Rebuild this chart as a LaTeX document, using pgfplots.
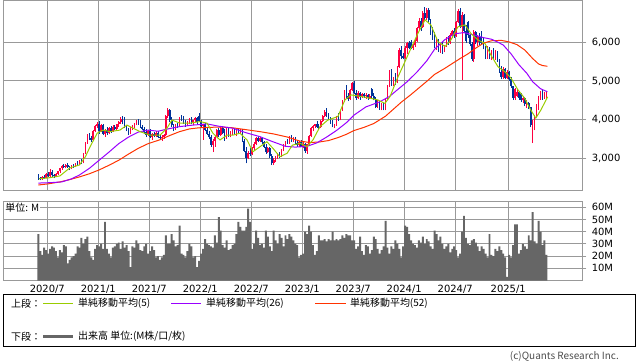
\documentclass[border=0pt]{standalone}
\usepackage{fontspec}
\setmainfont{DejaVu Sans}
\newfontfamily\jp{Noto Sans CJK JP}
\usepackage{pgfplots}
\usepackage{pgfplotstable}
\pgfplotsset{compat=1.18}
\definecolor{upred}{RGB}{255,0,64}
\definecolor{dnblue}{RGB}{0,51,153}
\definecolor{maA}{RGB}{153,204,0}
\definecolor{maB}{RGB}{153,0,255}
\definecolor{maC}{RGB}{255,51,0}
\definecolor{gridgray}{RGB}{153,153,153}
\definecolor{volgray}{RGB}{102,102,102}
\pgfplotsset{
  colormap={ud}{color(0cm)=(dnblue); color(1cm)=(upred)},
  panel/.style={scale only axis, width=579.3bp, xmin=-18, xmax=277.3,
    axis line style={gridgray, line width=1bp},
    grid=major, major grid style={gridgray, line width=1bp},
    xtick={4.59,30.58,56.57,82.57,108.56,134.56,160.55,186.54,212.54,239.55},
    ytick pos=right, yticklabel pos=right, xtick pos=bottom,
    tick align=outside, major tick length=4bp,
    xtick style={draw=none}, ytick style={gridgray, line width=1bp},
    ticklabel style={font=\fontsize{10}{12}\selectfont},
    yticklabel style={xshift=2bp},
    /pgf/number format/assume math mode=true, clip=true}
}
\pgfplotstableread{
w o h l c v k
0 2570 2600 2450 2490 38 0
1 2490 2530 2430 2460 24 0
2 2460 2550 2450 2530 21 1
3 2530 2560 2470 2490 27 0
4 2490 2610 2480 2590 25 1
5 2590 2640 2520 2540 22 0
6 2540 2720 2530 2650 26 1
7 2650 2700 2520 2560 28 0
8 2560 2600 2490 2540 27 0
9 2540 2620 2510 2600 24 1
10 2600 2680 2580 2660 19 1
11 2660 2760 2630 2740 25 1
12 2740 2830 2700 2800 23 1
13 2800 2860 2760 2780 29 0
14 2780 2850 2740 2820 28 1
15 2820 2870 2750 2770 14 0
16 2770 2800 2700 2740 17 0
17 2740 2820 2720 2800 19 1
18 2800 2860 2760 2780 20 0
19 2780 2880 2770 2860 22 1
20 2860 2920 2800 2830 28 0
21 2830 2950 2820 2920 27 1
22 2920 2980 2850 2880 35 0
23 2880 3150 2870 3120 30 1
24 3120 3420 3100 3400 34 1
25 3400 3620 3380 3580 36 1
26 3580 3660 3480 3520 24 0
27 3520 3580 3430 3470 19 0
28 3470 3720 3460 3700 17 1
29 3700 3860 3680 3830 26 1
30 3830 3950 3790 3900 29 1
31 3900 3960 3640 3700 28 0
32 3700 3880 3680 3850 30 1
33 3850 3880 3600 3640 26 0
34 3640 3760 3560 3720 48 1
35 3720 3800 3600 3650 26 0
36 3650 3820 3620 3780 22 1
37 3780 3830 3660 3700 19 0
38 3700 3850 3680 3820 27 1
39 3820 3860 3720 3760 28 0
40 3760 3900 3740 3880 30 1
41 3880 3960 3820 3930 31 1
42 3930 4060 3900 4020 26 1
43 4020 4090 3880 3900 32 0
44 3950 4080 3780 3800 27 0
45 3800 3850 3700 3740 29 0
46 3740 3780 3600 3640 24 0
47 3640 3800 3620 3760 11 1
48 3760 3850 3720 3820 28 1
49 3820 3920 3790 3880 27 1
50 3880 4000 3860 3970 33 1
51 3970 4020 3870 3900 30 0
52 3900 3980 3780 3800 25 0
53 3800 3860 3720 3760 24 0
54 3760 3800 3640 3680 28 0
55 3680 3750 3560 3600 30 0
56 3600 3720 3580 3700 22 1
57 3700 3750 3520 3560 24 0
58 3560 3660 3480 3620 28 1
59 3620 3680 3540 3580 25 0
60 3580 3700 3560 3660 19 1
61 3660 3700 3520 3560 20 0
62 3560 3620 3480 3520 17 0
63 3520 3600 3460 3560 19 1
64 3560 3640 3500 3600 21 1
65 3600 4130 3590 4100 37 1
66 4100 4300 4050 4250 30 1
67 4250 4280 3950 4000 30 0
68 4000 4060 3820 3850 38 0
69 3850 3900 3700 3760 33 0
70 3760 3900 3740 3870 28 1
71 3870 3920 3780 3820 29 0
72 3820 4080 3800 4060 45 1
73 4060 4120 3960 4000 22 0
74 4000 4100 3900 3940 21 0
75 3940 3980 3820 3860 19 0
76 3860 3960 3840 3940 24 1
77 3940 4040 3900 4000 30 1
78 4000 4060 3880 3920 28 0
79 3920 4000 3860 3980 19 1
80 3980 4060 3940 4030 20 1
81 4030 4080 3900 3940 11 0
82 4100 4170 3940 3960 16 0
83 3960 4000 3800 3840 22 0
84 3840 3900 3480 3880 26 1
85 3880 3920 3700 3740 34 0
86 3740 3800 3600 3640 30 0
87 3640 3700 3500 3540 29 0
88 3540 3600 3300 3350 28 0
89 3350 3500 3160 3460 27 1
90 3460 3600 3300 3560 37 1
91 3560 3760 3540 3720 31 1
92 3720 3780 3560 3600 52 0
93 3600 3820 3580 3780 41 1
94 3780 3840 3620 3660 29 0
95 3660 3760 3460 3520 27 0
96 3520 3780 3500 3740 33 1
97 3740 3800 3560 3600 25 0
98 3600 3700 3540 3660 26 1
99 3660 3760 3600 3720 29 1
100 3720 3780 3600 3640 30 0
101 3640 3720 3580 3680 38 1
102 3680 3760 3620 3660 48 0
103 3660 3760 3620 3720 44 1
104 3720 3760 3420 3460 41 0
105 3460 3500 3160 3200 41 0
106 3200 3280 2870 3000 44 0
107 3000 3200 2980 3140 59 1
108 3140 3260 3060 3100 48 0
109 3100 3300 3080 3260 26 1
110 3260 3420 3220 3380 30 1
111 3380 3560 3340 3520 41 1
112 3520 3580 3420 3460 35 0
113 3460 3560 3420 3520 29 1
114 3520 3560 3380 3420 30 0
115 3420 3460 3260 3300 27 0
116 3300 3380 3120 3160 41 0
117 3160 3300 3140 3260 36 1
118 3260 3280 3020 3060 28 0
119 3060 3100 2830 2880 24 0
120 2880 3000 2840 2960 41 1
121 2960 3060 2900 3020 33 1
122 3020 3140 2980 3100 30 1
123 3100 3160 3020 3060 38 0
124 3060 3240 3040 3200 35 1
125 3200 3360 3180 3320 28 1
126 3320 3460 3300 3440 37 1
127 3440 3500 3380 3400 34 0
128 3400 3580 3380 3540 38 1
129 3540 3600 3420 3460 36 0
130 3460 3560 3420 3520 33 1
131 3520 3560 3380 3400 30 0
132 3400 3480 3300 3340 29 0
133 3340 3460 3300 3420 19 1
134 3420 3480 3280 3300 21 0
135 3300 3420 3260 3380 22 1
136 3380 3400 3140 3200 40 0
137 3200 3380 3120 3360 38 1
138 3360 3600 3340 3580 45 1
139 3580 3820 3560 3780 40 1
140 3780 3860 3700 3840 29 1
141 3840 3900 3780 3880 21 1
142 3880 3960 3780 3820 24 0
143 3820 3900 3760 3800 37 0
144 3800 4000 3780 3960 33 1
145 3960 4120 3940 4100 33 1
146 4100 4240 4060 4200 34 1
147 4200 4290 4080 4120 32 0
148 4120 4160 3980 4020 34 0
149 4020 4080 3900 3940 33 0
150 3940 3980 3800 3840 40 0
151 3840 3900 3780 3860 33 1
152 3860 4100 3840 4060 34 1
153 4060 4180 3960 4000 33 0
154 4000 4260 3980 4240 34 1
155 4240 4520 4220 4480 37 1
156 4480 4760 4460 4720 35 1
157 4720 4900 4560 4600 38 0
158 4600 4700 4480 4540 37 0
159 4540 4800 4520 4760 37 1
160 4760 4980 4740 4940 33 1
161 4940 4990 4660 4700 33 0
162 4700 4760 4520 4560 26 0
163 4560 4740 4540 4700 28 1
164 4700 4720 4520 4580 36 0
165 4580 4700 4560 4660 24 1
166 4660 4700 4560 4600 21 0
167 4600 4680 4540 4640 29 1
168 4640 4660 4520 4560 28 0
169 4560 4660 4540 4620 22 1
170 4780 4820 4560 4600 25 0
171 4600 4700 4500 4540 36 0
172 4540 4580 4300 4340 34 0
173 4340 4500 4300 4460 26 1
174 4460 4480 4260 4300 22 0
175 4300 4420 4240 4380 25 1
176 4380 4420 4240 4280 28 0
177 4280 4560 4240 4520 49 1
178 4520 4900 4500 4860 27 1
179 4860 5280 4840 5240 22 1
180 5240 5300 4880 4940 28 0
181 4940 5100 4860 5060 26 1
182 5060 5200 4900 4960 33 0
183 4960 5400 4940 5360 30 1
184 5360 5850 5340 5800 26 1
185 5800 5900 5560 5640 19 0
186 5640 5720 5560 5600 28 0
187 5600 5900 5560 5860 45 1
188 5860 6020 5700 5980 44 1
189 5980 6040 5820 5860 38 0
190 6000 6060 5820 5860 33 0
191 5860 5960 5800 5920 30 1
192 5920 6080 5880 6040 29 1
193 6040 6400 6020 6360 27 1
194 6360 6620 6320 6560 33 1
195 6560 6640 6300 6400 31 0
196 6400 6800 6380 6760 36 1
197 6760 6920 6560 6620 30 0
198 6620 6880 6580 6840 34 1
199 6840 6900 6520 6580 32 0
200 6580 6600 6200 6260 28 0
201 6260 6400 6060 6120 26 0
202 6120 6260 5860 5900 41 0
203 5900 6100 5800 6040 38 1
204 6040 6080 5760 5800 33 0
205 5800 5960 5720 5920 36 1
206 5920 6000 5700 5760 30 0
207 5760 5940 5740 5900 26 1
208 5900 6140 5880 6100 28 1
209 6100 6160 5940 5980 30 0
210 5980 6240 5960 6200 23 1
211 6200 6320 6100 6280 26 1
212 6280 6360 6120 6160 28 0
213 6160 6560 6140 6520 25 1
214 6520 6860 6500 6800 19 1
215 6800 6880 6360 6400 22 0
216 6400 6780 5030 6700 40 1
217 6700 6740 6240 6300 53 0
218 6300 6460 5980 6040 35 0
219 6520 6560 6120 6180 30 0
220 6180 6220 5900 5960 29 0
221 5960 6000 5520 5580 33 0
222 5580 6320 5500 6260 34 1
223 6260 6300 5960 6020 31 0
224 6020 6200 5900 6140 28 1
225 6140 6240 5920 5980 24 0
226 6260 6290 5960 6000 28 0
227 6000 6100 5820 5860 26 0
228 5860 5900 5560 5600 22 0
229 5600 5900 5580 5860 19 1
230 5860 5880 5560 5620 38 0
231 5620 5800 5540 5760 21 1
232 5760 5840 5540 5580 20 0
233 5580 5800 5540 5760 26 1
234 5760 5780 5500 5540 24 0
235 5540 5580 5200 5240 28 0
236 5240 5380 5040 5100 25 0
237 5100 5360 5060 5320 22 1
238 5320 5340 5040 5080 19 0
239 5080 5280 5040 5240 3 1
240 5240 5260 5000 5040 21 0
241 5040 5100 4820 4860 19 0
242 4860 4880 4520 4560 29 0
243 4560 4820 4520 4780 46 1
244 4620 4780 4580 4720 46 1
245 4720 4740 4520 4560 22 0
246 4660 4700 4460 4500 25 0
247 4500 4600 4420 4560 30 1
248 4560 4580 4360 4400 28 0
249 4400 4500 4300 4440 26 1
250 4440 4460 4280 4320 37 0
251 4320 4340 3820 3860 33 0
252 3860 4000 3390 3960 56 1
253 3960 4120 3720 4080 32 1
254 4080 4400 4060 4360 30 1
255 4360 4620 4260 4580 49 1
256 4580 4740 4520 4700 40 1
257 4700 4770 4520 4560 29 0
258 4560 4720 4540 4680 33 1
259 4580 4720 4540 4660 21 1
}\data
\begin{document}
\begin{tikzpicture}
\path[use as bounding box] (0,0) rectangle (638bp,-362bp);
% upper panel
\begin{axis}[panel, at={(3bp,0bp)}, anchor=north west, height=190.3bp,
  ymin=2173, ymax=7094, ytick={3000,4000,5000,6000}, xticklabel={\relax},
  /pgf/number format/1000 sep={,},
  colormap name=ud, point meta min=0, point meta max=1]
% wicks
\addplot[mark=none, point meta=\thisrow{k},
  quiver={u=0, v={\thisrow{h}-\thisrow{l}},
    every arrow/.append style={draw=mapped color, line width=0.7bp}}]
  table[x=w, y=l] {\data};
% bodies
\addplot[mark=none, point meta=\thisrow{k},
  quiver={u=0, v={abs(\thisrow{c}-\thisrow{o})},
    every arrow/.append style={draw=mapped color, line width=1.6bp}}]
  table[x=w, y expr={min(\thisrow{o},\thisrow{c})}] {\data};
% MA52
\addplot[maC, line width=1bp, mark=none] coordinates {(0,2310)(5,2340)(11,2390)(16,2450)(21,2520)(26,2600)(31,2700)(36,2820)(41,2950)(46,3110)(51,3260)(56,3380)(62,3480)(67,3590)(72,3690)(77,3760)(82,3790)(87,3800)(93,3810)(99,3790)(106,3740)(113,3690)(120,3630)(127,3550)(133,3450)(138,3410)(143,3420)(148,3460)(153,3540)(157,3620)(161,3720)(166,3800)(171,3900)(177,4090)(181,4270)(185,4450)(190,4650)(194,4820)(198,4990)(202,5170)(207,5320)(211,5450)(215,5580)(219,5700)(223,5850)(227,5980)(231,6040)(236,6050)(240,6010)(244,5940)(248,5800)(252,5580)(255,5440)(257,5400)(259.5,5380)};
% MA26
\addplot[maB, line width=1bp, mark=none] coordinates {(0,2360)(6,2370)(12,2390)(17,2470)(21,2570)(26,2740)(31,2950)(36,3160)(41,3380)(46,3550)(51,3680)(56,3730)(61,3700)(66,3760)(72,3820)(79,3860)(86,3890)(92,3830)(99,3780)(106,3660)(113,3560)(119,3440)(126,3310)(131,3290)(137,3310)(142,3400)(147,3550)(152,3720)(157,3920)(161,4120)(167,4330)(174,4460)(179,4600)(183,4770)(188,4980)(193,5230)(198,5520)(202,5820)(207,6060)(212,6220)(217,6250)(222,6190)(227,6120)(231,6080)(234,6010)(237,5930)(241,5700)(245,5420)(249,5200)(252,4980)(256,4800)(259.5,4720)};
% MA5
\addplot[maA, line width=1bp, mark=none] coordinates {(0.4,2470)(6,2500)(11,2545)(16,2750)(21,2830)(24,3040)(26.4,3300)(30,3650)(33,3730)(36.5,3690)(41.6,3730)(45.2,3860)(48.3,3780)(51.8,3690)(56.9,3600)(62,3600)(65.6,3780)(68.1,3990)(72.2,3910)(77.3,3910)(82.4,3950)(86,3910)(89,3650)(92.6,3475)(96.2,3600)(99.2,3600)(102.8,3650)(106.4,3475)(109.4,3170)(113,3300)(116.5,3430)(119.6,3260)(123.1,3040)(126.8,3130)(129.5,3340)(133.4,3390)(136.9,3300)(140,3475)(143.6,3820)(147.6,3990)(152.7,4080)(156.3,4510)(159.4,4640)(164.5,4600)(169.6,4550)(173.1,4510)(176.7,4420)(179.3,4600)(183.3,5100)(186.9,5500)(190,5850)(193.5,6230)(197.1,6580)(200.1,6450)(203.7,6020)(207.3,5890)(210.3,6060)(213.9,6400)(217.5,6450)(220.5,6230)(224.1,6060)(227.7,5970)(230.7,5670)(234.3,5370)(237.8,5240)(240.9,5080)(244.5,4770)(248,4550)(251,4250)(253.6,4040)(256.2,4250)(259.6,4590)};
\end{axis}
% volume panel
\begin{axis}[panel, at={(3bp,-201bp)}, anchor=north west, height=79.5bp,
  ymin=0, ymax=65.2, ytick={10,20,30,40,50,60},
  yticklabel={\pgfmathprintnumber{\tick}M},
  xticklabels={2020/7,2021/1,2021/7,2022/1,2022/7,2023/1,2023/7,2024/1,2024/7,2025/1},
  xticklabel style={yshift=3bp}]
\addplot[ybar, bar width=1, fill=volgray, draw=none] table[x=w, y=v] {\data};
\end{axis}
\node[fill=white, anchor=north west, inner sep=1.2bp, font=\jp\fontsize{10}{12}\selectfont] at (4bp,-202bp) {単位: M};
% legend box
\draw[black, line width=1bp] (3.5bp,-294bp) rectangle (635.5bp,-346bp);
\begin{scope}[every node/.style={anchor=west, inner sep=0pt, font=\jp\fontsize{10}{12}\selectfont}]
\node at (11bp,-303.5bp) {上段：};
\draw[maA, line width=1bp] (43bp,-303.5bp) -- (73bp,-303.5bp);
\node at (78bp,-303.5bp) {単純移動平均(5)};
\draw[maB, line width=1bp] (171bp,-303.5bp) -- (201bp,-303.5bp);
\node at (206bp,-303.5bp) {単純移動平均(26)};
\draw[maC, line width=1bp] (315bp,-303.5bp) -- (346bp,-303.5bp);
\node at (350bp,-303.5bp) {単純移動平均(52)};
\node at (11bp,-336.5bp) {下段：};
\draw[volgray, line width=3bp] (43bp,-336.5bp) -- (73bp,-336.5bp);
\node at (78bp,-336.5bp) {出来高 単位:(M株/口/枚)};
\end{scope}
\node[anchor=east, inner sep=0pt, text=black!70, font=\jp\fontsize{10}{12}\selectfont] at (619bp,-356.5bp) {(c)Quants Research Inc.};
\end{tikzpicture}
\end{document}
